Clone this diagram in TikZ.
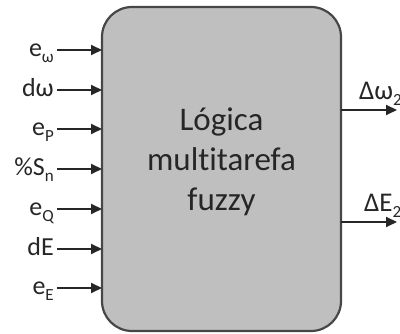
\documentclass[tikz,border=0pt]{standalone}
\usepackage{fontspec}
\setmainfont[Ligatures=NoCommon]{Carlito}
\usetikzlibrary{arrows.meta}
\newcommand{\lowidx}[1]{\raisebox{-0.22em}{\fontsize{17}{17}\selectfont #1}}
\begin{document}
\begin{tikzpicture}[x=1pt,y=-1pt,
  inlabel/.style={anchor=base east,inner sep=0pt,font=\fontsize{26}{26}\selectfont,text=black!85},
  outlabel/.style={anchor=base west,inner sep=0pt,font=\fontsize{27}{27}\selectfont,text=black!85},
  sig/.style={line width=2pt,draw=black!85,-{Triangle[length=11pt,width=10pt]}},
  fuzzybox/.style={draw=black!72,line width=2.2pt,fill=black!25,rounded corners=30pt}]
\useasboundingbox (0,0) rectangle (400,334);
% main block
\draw[fuzzybox] (102,7) rectangle (341,331);
\node[align=center,inner sep=0pt,font=\fontsize{33}{40}\selectfont,text=black!85] (core) at (221.5,162)
  {Lógica\\multitarefa\\fuzzy};
% input signals
\foreach \nm/\txt/\yy in {ew/e\lowidx{ω}/50, dw/dω/90, ep/e\lowidx{P}/129, sn/\%S\lowidx{n}/169,
                          eq/e\lowidx{Q}/209, de/dE/249, ee/e\lowidx{E}/288}{
  \node[inlabel] (l\nm) at (54,\yy+7) {\txt};
  \coordinate (s\nm) at (57,\yy);
  \coordinate (t\nm) at (102,\yy);
  \draw[sig] (s\nm) -- (t\nm);
}
% output signals
\coordinate (ow0) at (341,110);
\coordinate (ow1) at (397,110);
\coordinate (oe0) at (341,222);
\coordinate (oe1) at (397,222);
\draw[sig] (ow0) -- (ow1);
\draw[sig] (oe0) -- (oe1);
\node[outlabel] (lw) at (359,100) {Δω\lowidx{2}};
\node[outlabel] (le) at (364,212) {ΔE\lowidx{2}};
\end{tikzpicture}
\end{document}
